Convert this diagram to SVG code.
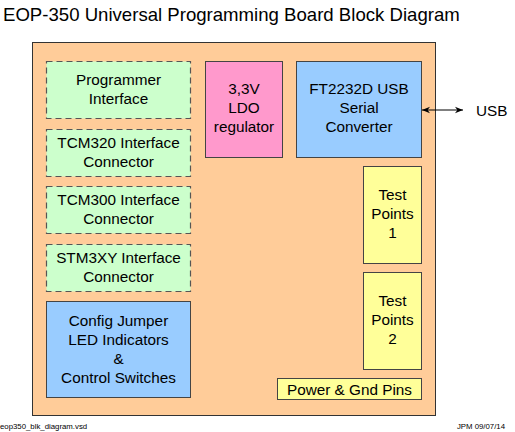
<svg xmlns="http://www.w3.org/2000/svg" width="515" height="432" viewBox="0 0 515 432">
<defs>
<style>
text{font-family:"Liberation Sans",Arial,sans-serif;fill:#000}
.t{font-size:15.3px;text-anchor:middle}
.board{fill:#FFCC99;stroke:#333;stroke-width:1}
.green{fill:#CCFFCC;stroke:#555;stroke-width:1.2;stroke-dasharray:6,4}
.pink{fill:#FF99CC;stroke:#444;stroke-width:1}
.blue{fill:#99CCFF;stroke:#444;stroke-width:1}
.yellow{fill:#FFFF99;stroke:#444;stroke-width:1}
.conn{stroke:#000;stroke-width:1;fill:none}
</style>
<marker id="ah" viewBox="0 0 10 10" refX="10" refY="5" markerWidth="8" markerHeight="8" orient="auto-start-reverse" markerUnits="userSpaceOnUse">
<path d="M0,1 L10,5 L0,9 L3,5 Z" fill="#000"/>
</marker>
</defs>
<rect width="515" height="432" fill="#fff"/>
<text x="3" y="21" style="font-size:18.6px">EOP-350 Universal Programming Board Block Diagram</text>
<g id="board"><rect class="board" x="32.5" y="42.5" width="403" height="373"/></g>
<g id="programmer"><rect class="green" x="46.5" y="61.5" width="144" height="57"/>
<text class="t" x="118.5" y="85">Programmer</text><text class="t" x="118.5" y="104">Interface</text></g>
<g id="tcm320"><rect class="green" x="46.5" y="129.5" width="144" height="47"/>
<text class="t" x="118.5" y="148">TCM320 Interface</text><text class="t" x="118.5" y="167">Connector</text></g>
<g id="tcm300"><rect class="green" x="46.5" y="186.5" width="144" height="47"/>
<text class="t" x="118.5" y="205">TCM300 Interface</text><text class="t" x="118.5" y="224">Connector</text></g>
<g id="stm3xy"><rect class="green" x="46.5" y="244.5" width="144" height="47"/>
<text class="t" x="118.5" y="263">STM3XY Interface</text><text class="t" x="118.5" y="282">Connector</text></g>
<g id="config"><rect class="blue" x="46.5" y="301.5" width="144" height="96"/>
<text class="t" x="118.5" y="326">Config Jumper</text><text class="t" x="118.5" y="345">LED Indicators</text><text class="t" x="118.5" y="364">&amp;</text><text class="t" x="118.5" y="383">Control Switches</text></g>
<g id="ldo"><rect class="pink" x="205.5" y="61.5" width="77" height="96"/>
<text class="t" x="244" y="94">3,3V</text><text class="t" x="244" y="113">LDO</text><text class="t" x="244" y="132">regulator</text></g>
<g id="ft2232"><rect class="blue" x="296.5" y="61.5" width="125" height="96"/>
<text class="t" x="359" y="94">FT2232D USB</text><text class="t" x="359" y="113">Serial</text><text class="t" x="359" y="132">Converter</text></g>
<g id="tp1"><rect class="yellow" x="363.5" y="166.5" width="58" height="97"/>
<text class="t" x="392.5" y="200">Test</text><text class="t" x="392.5" y="219">Points</text><text class="t" x="392.5" y="238">1</text></g>
<g id="tp2"><rect class="yellow" x="363.5" y="272.5" width="58" height="97"/>
<text class="t" x="392.5" y="306">Test</text><text class="t" x="392.5" y="325">Points</text><text class="t" x="392.5" y="344">2</text></g>
<g id="power"><rect class="yellow" x="277.5" y="378.5" width="144" height="21"/>
<text class="t" x="349.5" y="394.5">Power &amp; Gnd Pins</text></g>
<g id="usb"><text x="476" y="116" style="font-size:15.3px">USB</text></g>
<g id="connectors"><line class="conn" x1="422" y1="110" x2="463" y2="110" marker-start="url(#ah)" marker-end="url(#ah)"/></g>
<text x="0" y="429" style="font-size:7.8px">eop350_blk_diagram.vsd</text>
<text x="505" y="429" style="font-size:7.8px;text-anchor:end">JPM 09/07/14</text>
</svg>
